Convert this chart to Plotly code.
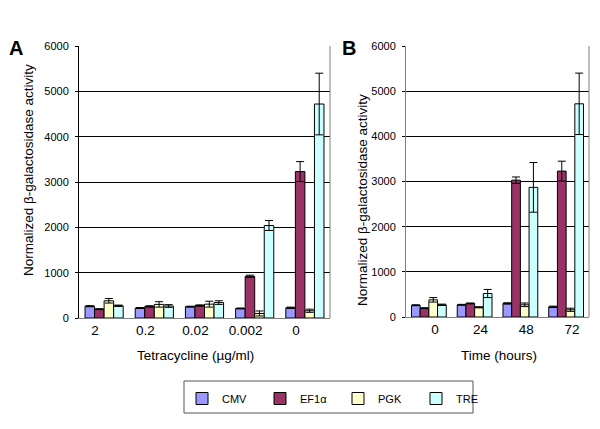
import plotly.graph_objects as go
from plotly.subplots import make_subplots

# ---------------- data ----------------
series_names = ["CMV", "EF1α", "PGK", "TRE"]
series_colors = ["#9999FF", "#993366", "#FFFFCC", "#CCFFFF"]

tet_cats = ["2", "0.2", "0.02", "0.002", "0"]
tet_cmv = [260, 220, 250, 210, 225]
tet_cmv_err = [12, 10, 10, 10, 15]
tet_ef1a = [195, 255, 275, 920, 3230]
tet_ef1a_err = [10, 15, 15, 25, 220]
tet_pgk = [380, 300, 305, 100, 160]
tet_pgk_err = [50, 60, 65, 55, 35]
tet_tre = [270, 265, 340, 2040, 4720]
tet_tre_err = [15, 30, 40, 110, 680]

time_cats = ["0", "24", "48", "72"]
time_cmv = [260, 270, 300, 225]
time_cmv_err = [10, 10, 15, 15]
time_ef1a = [195, 300, 3030, 3230]
time_ef1a_err = [10, 10, 70, 220]
time_pgk = [380, 215, 270, 160]
time_pgk_err = [50, 12, 40, 35]
time_tre = [270, 520, 2870, 4720]
time_tre_err = [15, 90, 550, 680]

y_ticks = [0, 1000, 2000, 3000, 4000, 5000, 6000]

W, H = 600, 429
OFF = 8  # page body margin offset
FONT = "Arial, Liberation Sans, sans-serif"


def px(x):
    return (x - OFF) / W


def py(y):
    return 1 - (y - OFF) / H


fig = make_subplots(rows=1, cols=2)

tet_vals = [tet_cmv, tet_ef1a, tet_pgk, tet_tre]
tet_errs = [tet_cmv_err, tet_ef1a_err, tet_pgk_err, tet_tre_err]
time_vals = [time_cmv, time_ef1a, time_pgk, time_tre]
time_errs = [time_cmv_err, time_ef1a_err, time_pgk_err, time_tre_err]

for i, name in enumerate(series_names):
    fig.add_trace(go.Bar(
        x=tet_cats, y=tet_vals[i], name=name, legendgroup=name,
        marker=dict(color=series_colors[i], line=dict(color="black", width=1)),
        error_y=dict(type="data", array=tet_errs[i], color="black", thickness=1, width=4),
        showlegend=True,
    ), row=1, col=1)
for i, name in enumerate(series_names):
    fig.add_trace(go.Bar(
        x=time_cats, y=time_vals[i], name=name, legendgroup=name,
        marker=dict(color=series_colors[i], line=dict(color="black", width=1)),
        error_y=dict(type="data", array=time_errs[i], color="black", thickness=1, width=4),
        showlegend=False,
    ), row=1, col=2)

yaxis_common = dict(
    range=[0, 6000], tickvals=y_ticks, showgrid=True, gridcolor="#000000", gridwidth=1,
    zeroline=False, showline=True, ticks="outside", ticklen=3, tickcolor="#000000",
    tickfont=dict(family=FONT, size=11, color="black"), ticklabelstandoff=4,
    automargin=False,
)


def ann(text, x, y, size=13.5, angle=0):
    return dict(text=text, x=px(x), y=py(y), xref="paper", yref="paper",
                xanchor="center", yanchor="middle", showarrow=False, textangle=angle,
                font=dict(family=FONT, size=size, color="black"))


fig.update_layout(
    width=W, height=H,
    margin=dict(l=0, r=0, t=0, b=0),
    paper_bgcolor="white", plot_bgcolor="white",
    barmode="group",
    font=dict(family=FONT, color="black"),
    xaxis=dict(domain=[px(79), px(330)], showline=True, linecolor="#808080", mirror=False,
               ticks="", tickfont=dict(family=FONT, size=13.5, color="black"),
               ticklabelshift=-9, automargin=False),
    xaxis2=dict(domain=[px(406), px(589)], showline=True, linecolor="#808080",
                ticks="", tickfont=dict(family=FONT, size=13.5, color="black"),
                ticklabelshift=6, automargin=False),
    yaxis=dict(domain=[py(318), py(46)], linecolor="#000000", **yaxis_common),
    yaxis2=dict(domain=[py(317), py(46)], linecolor="#808080", **yaxis_common),
    bargap=0.24,
    legend=dict(orientation="h", x=px(182), xanchor="left", y=py(384), yanchor="top",
                font=dict(family=FONT, size=11, color="black"),
                bgcolor="rgba(0,0,0,0)", borderwidth=0,
                entrywidth=33, entrywidthmode="pixels", itemclick=False),
    shapes=[
        dict(type="line", xref="x domain", yref="y domain", x0=1, x1=1, y0=0, y1=1,
             line=dict(color="#808080", width=1)),
        dict(type="line", xref="x2 domain", yref="y2 domain", x0=1, x1=1, y0=0, y1=1,
             line=dict(color="#808080", width=1)),
        dict(type="rect", xref="paper", yref="paper", x0=px(184), x1=px(473),
             y0=py(413), y1=py(381), line=dict(color="#555555", width=1)),
    ],
    annotations=[
        ann("<b>A</b>", 15.5, 47.5, size=20),
        ann("<b>B</b>", 348.5, 48.5, size=20),
        ann("Normalized β-galactosidase activity", 28, 170, angle=-90),
        ann("Normalized β-galactosidase activity", 363, 200, angle=-90),
        ann("Tetracycline (µg/ml)", 195, 355),
        ann("Time (hours)", 499, 355),
    ],
)

fig.write_html("out.html")
